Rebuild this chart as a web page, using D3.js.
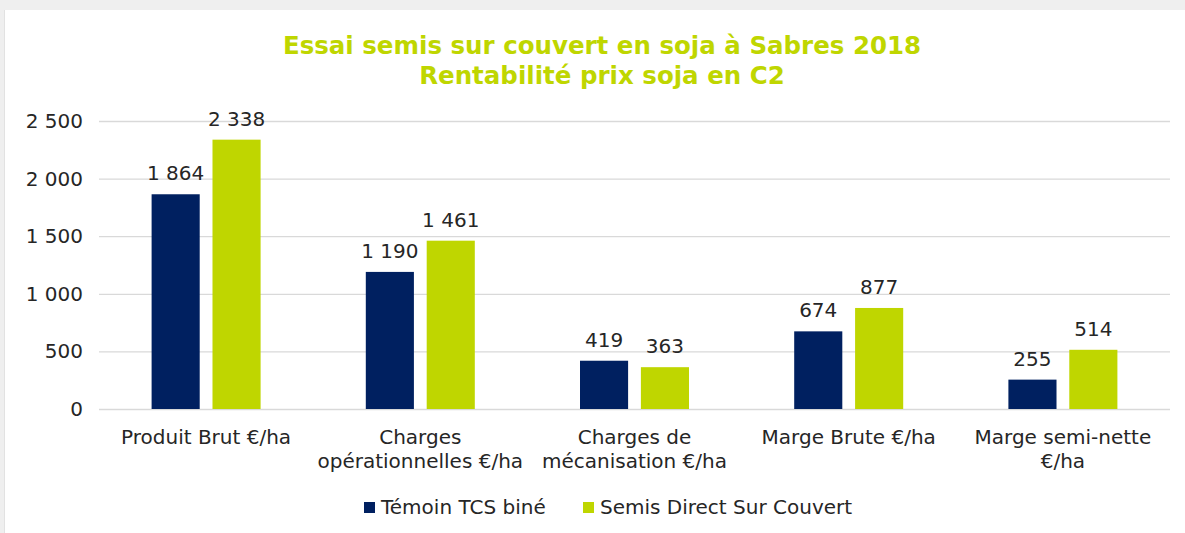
<!DOCTYPE html>
<html>
<head>
<meta charset="utf-8">
<script src="https://cdn.jsdelivr.net/npm/d3@7"></script>
<style>
  body { margin: 0; background: #fff; }
  svg { display: block; }
</style>
</head>
<body>
<div id="chart"></div>
<script>
var categories = [
	["Produit Brut €/ha"],
	["Charges", "opérationnelles €/ha"],
	["Charges de", "mécanisation €/ha"],
	["Marge Brute €/ha"],
	["Marge semi-nette", "€/ha"]
];
var seriesNames = ["Témoin TCS biné", "Semis Direct Sur Couvert"];
var temoin = [1864, 1190, 419, 674, 255];
var semisDirect = [2338, 1461, 363, 877, 514];
var yTicks = [0, 500, 1000, 1500, 2000, 2500];
var colors = ["#002060", "#bfd600"];

var W = 1185, H = 533;
var margin = {top: 121, right: 15, bottom: 124, left: 99};
var width = W - margin.left - margin.right;
var height = H - margin.top - margin.bottom;

var svg = d3.select("#chart").append("svg")
	.attr("width", W)
	.attr("height", H);

// frame shadow
svg.append("rect").attr("width", W).attr("height", H).attr("fill", "#efefef");
svg.append("rect").attr("x", 4).attr("y", 10).attr("width", W - 4).attr("height", H - 10).attr("fill", "#fff");
svg.append("line").attr("x1", 4.5).attr("x2", 4.5).attr("y1", 10).attr("y2", H)
	.attr("stroke", "#e2e2e2");

var font = "'DejaVu Sans', Verdana, sans-serif";
var fs = 20;

svg.append("text")
	.attr("x", 602).attr("y", 54)
	.attr("text-anchor", "middle")
	.attr("font-family", font)
	.attr("font-weight", "bold")
	.attr("font-size", 24.5)
	.attr("fill", colors[1])
	.selectAll("tspan")
	.data(["Essai semis sur couvert en soja à Sabres 2018", "Rentabilité prix soja en C2"])
	.enter().append("tspan")
	.attr("x", 602)
	.attr("dy", function(d, i) { return i ? 30 : 0; })
	.text(function(d) { return d; });

var g = svg.append("g").attr("transform", "translate(" + margin.left + "," + margin.top + ")");

var x0 = d3.scaleBand().domain(d3.range(categories.length)).range([0, width]).padding(0);
var x1 = d3.scaleBand().domain([0, 1]).range([x0.bandwidth() / 2 - 54.5, x0.bandwidth() / 2 + 54.5]).paddingInner(0.21);
var y = d3.scaleLinear().domain([0, 2500]).range([height, 0]);

var fmt = function(v) { return d3.format(",")(v).replace(/,/g, " "); };

// grid + y labels
var yAxis = g.append("g")
	.call(d3.axisLeft(y).tickValues(yTicks).tickSize(-width).tickFormat(fmt).tickPadding(16));
yAxis.select(".domain").remove();
yAxis.selectAll(".tick line").attr("stroke", "#d9d9d9").attr("stroke-width", 1.3);
yAxis.selectAll(".tick text")
	.attr("font-family", font).attr("font-size", fs).attr("fill", "#262626");

var series = [temoin, semisDirect];
var groups = g.selectAll(".grp")
	.data(categories)
	.enter().append("g")
	.attr("transform", function(d, i) { return "translate(" + x0(i) + ",0)"; });

groups.each(function(c, i) {
	var sel = d3.select(this);
	series.forEach(function(s, k) {
		sel.append("rect")
			.attr("x", x1(k))
			.attr("y", y(s[i]))
			.attr("width", x1.bandwidth())
			.attr("height", height - y(s[i]))
			.attr("fill", colors[k]);
		sel.append("text")
			.attr("x", x1(k) + x1.bandwidth() / 2)
			.attr("y", y(s[i]) - 14)
			.attr("text-anchor", "middle")
			.attr("font-family", font).attr("font-size", fs)
			.attr("fill", "#262626")
			.text(fmt(s[i]));
	});
	var t = sel.append("text")
		.attr("x", x0.bandwidth() / 2)
		.attr("y", height + 35)
		.attr("text-anchor", "middle")
		.attr("font-family", font).attr("font-size", fs)
		.attr("fill", "#262626");
	c.forEach(function(line, j) {
		t.append("tspan").attr("x", x0.bandwidth() / 2).attr("dy", j ? 24 : 0).text(line);
	});
});

// legend
var legendX = [364, 583];
var legend = svg.selectAll(".leg")
	.data(seriesNames)
	.enter().append("g")
	.attr("transform", function(d, i) { return "translate(" + legendX[i] + ",502)"; });
legend.append("rect").attr("width", 11).attr("height", 11)
	.attr("fill", function(d, i) { return colors[i]; });
legend.append("text")
	.attr("x", 17).attr("y", 12)
	.attr("font-family", font).attr("font-size", fs)
	.attr("fill", "#262626")
	.text(function(d) { return d; });
</script>
</body>
</html>
